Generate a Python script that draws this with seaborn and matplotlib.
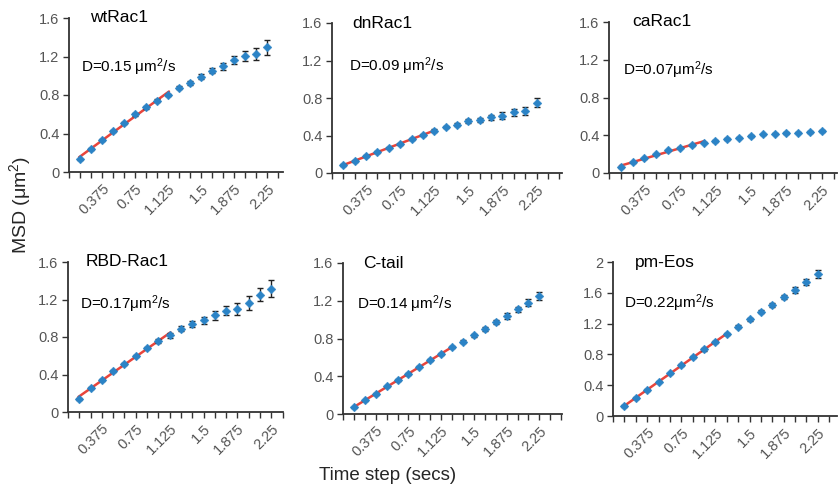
import numpy as np
import pandas as pd
import matplotlib
matplotlib.use("Agg")
import matplotlib.pyplot as plt
import seaborn as sns

sns.set_theme(style="white")
plt.rcParams['font.family'] = ['Liberation Sans', 'DejaVu Sans']
plt.rcParams['mathtext.fontset'] = 'custom'
plt.rcParams['mathtext.rm'] = 'Liberation Sans'
plt.rcParams['mathtext.it'] = 'Liberation Sans'

# ---------------- data ----------------
time_steps = [0.125 * (i + 1) for i in range(18)]
tick_labels = ["0.375", "0.75", "1.125", "1.5", "1.875", "2.25"]

names = ["wtRac1", "dnRac1", "caRac1", "RBD-Rac1", "C-tail", "pm-Eos"]
d_texts = ["D=0.15 \u03bcm$^2$/s", "D=0.09 \u03bcm$^2$/s", "D=0.07\u03bcm$^2$/s",
           "D=0.17\u03bcm$^2$/s", "D=0.14 \u03bcm$^2$/s", "D=0.22\u03bcm$^2$/s"]
fit_points = [9, 9, 8, 9, 10, 10]

msd_wtRac1 = [0.13, 0.24, 0.337, 0.428, 0.508, 0.598, 0.671, 0.741, 0.80,
              0.877, 0.929, 0.991, 1.054, 1.099, 1.162, 1.207, 1.224, 1.294]
err_wtRac1 = [0.01, 0.01, 0.01, 0.01, 0.01, 0.012, 0.012, 0.015, 0.015,
              0.018, 0.02, 0.025, 0.03, 0.035, 0.045, 0.05, 0.06, 0.075]

msd_dnRac1 = [0.084, 0.13, 0.179, 0.225, 0.27, 0.312, 0.361, 0.407, 0.453,
              0.488, 0.516, 0.551, 0.565, 0.593, 0.611, 0.646, 0.663, 0.751]
err_dnRac1 = [0.008, 0.008, 0.008, 0.008, 0.008, 0.01, 0.01, 0.01, 0.012,
              0.012, 0.015, 0.02, 0.025, 0.03, 0.035, 0.035, 0.04, 0.05]

msd_caRac1 = [0.063, 0.113, 0.158, 0.20, 0.239, 0.267, 0.295, 0.323, 0.341,
              0.359, 0.376, 0.39, 0.408, 0.418, 0.425, 0.429, 0.432, 0.443]
err_caRac1 = [0.005, 0.005, 0.005, 0.006, 0.006, 0.006, 0.007, 0.007, 0.008,
              0.008, 0.008, 0.009, 0.009, 0.01, 0.01, 0.01, 0.012, 0.012]

msd_RBD = [0.142, 0.256, 0.338, 0.434, 0.516, 0.601, 0.683, 0.757, 0.818,
           0.889, 0.939, 0.978, 1.031, 1.081, 1.099, 1.163, 1.252, 1.316]
err_RBD = [0.01, 0.01, 0.01, 0.012, 0.012, 0.012, 0.015, 0.018, 0.03,
           0.025, 0.03, 0.04, 0.045, 0.05, 0.06, 0.07, 0.07, 0.09]

msd_Ctail = [0.07, 0.144, 0.214, 0.292, 0.359, 0.425, 0.503, 0.57, 0.636,
             0.707, 0.767, 0.833, 0.90, 0.974, 1.037, 1.108, 1.181, 1.248]
err_Ctail = [0.008, 0.008, 0.008, 0.008, 0.01, 0.01, 0.01, 0.01, 0.012,
             0.012, 0.015, 0.018, 0.018, 0.025, 0.03, 0.03, 0.035, 0.04]

msd_pmEos = [0.13, 0.235, 0.339, 0.448, 0.552, 0.657, 0.761, 0.865, 0.965,
             1.065, 1.161, 1.257, 1.352, 1.443, 1.543, 1.635, 1.735, 1.848]
err_pmEos = [0.01, 0.01, 0.01, 0.01, 0.012, 0.012, 0.012, 0.015, 0.015,
             0.018, 0.02, 0.02, 0.02, 0.025, 0.03, 0.04, 0.04, 0.05]

all_msd = [msd_wtRac1, msd_dnRac1, msd_caRac1, msd_RBD, msd_Ctail, msd_pmEos]
all_err = [err_wtRac1, err_dnRac1, err_caRac1, err_RBD, err_Ctail, err_pmEos]
y_max = [1.6, 1.6, 1.6, 1.6, 1.6, 2.0]
y_ticks = [[0, 0.4, 0.8, 1.2, 1.6]] * 5 + [[0, 0.4, 0.8, 1.2, 1.6, 2.0]]
y_ticklabels = [["0", "0.4", "0.8", "1.2", "1.6"]] * 5 + [["0", "0.4", "0.8", "1.2", "1.6", "2"]]

# ---------------- layout (pixels) ----------------
W, H = 838, 487
boxes = [  # left, right, top, bottom
    (69, 283, 18, 172),
    (332, 562, 23, 173),
    (609, 837, 22, 173),
    (68, 283, 262, 412),
    (343, 562, 263, 414),
    (613, 837, 262, 416),
]
x_max = [2.43, 2.53, 2.41, 2.38, 2.51, 2.46]
title_x = [0.10, 0.087, 0.10, 0.084, 0.09, 0.098]
dtext_pos = [(0.055, 0.68), (0.075, 0.71), (0.06, 0.68), (0.056, 0.72), (0.064, 0.73), (0.05, 0.73)]

BLUE = "#2B83C6"
RED = "#E8453C"
GREY = "#555555"

fig = plt.figure(figsize=(W / 100, H / 100), dpi=100)

for i in range(6):
    l, r, t, b = boxes[i]
    ax = fig.add_axes([l / W, 1 - b / H, (r - l) / W, (b - t) / H])
    df = pd.DataFrame({"t": time_steps, "msd": all_msd[i], "err": all_err[i]})

    # fit line over first points
    n = fit_points[i]
    coef = np.polyfit(df["t"][:n], df["msd"][:n], 1)
    fit_df = pd.DataFrame({"t": [df["t"][0] - 0.01, df["t"][n - 1] + 0.01]})
    fit_df["msd"] = np.polyval(coef, fit_df["t"])
    sns.lineplot(data=fit_df, x="t", y="msd", ax=ax, color=RED, lw=1.8, zorder=2)

    ax.errorbar(df["t"], df["msd"], yerr=df["err"], fmt="none", ecolor="#222222",
                elinewidth=1.0, capsize=2.2, capthick=1.0, zorder=3)
    sns.scatterplot(data=df, x="t", y="msd", ax=ax, marker="D", s=20,
                    color=BLUE, edgecolor=BLUE, linewidth=0.3, zorder=4)

    ax.set_xlim(0, x_max[i])
    ax.set_ylim(0, y_max[i])
    ax.set_xlabel("")
    ax.set_ylabel("")

    minor = np.arange(0, x_max[i] + 1e-9, 0.125)
    ax.set_xticks(minor, minor=True)
    ax.set_xticks([0.375, 0.75, 1.125, 1.5, 1.875, 2.25])
    ax.set_xticklabels(tick_labels, rotation=45, ha="right", va="top",
                       rotation_mode="anchor", fontsize=10.5, color=GREY)
    ax.set_yticks(y_ticks[i])
    ax.set_yticklabels(y_ticklabels[i], fontsize=10.5, color=GREY)
    ax.tick_params(axis="x", which="both", direction="out", length=4, width=1.0,
                   color="#333333", bottom=True, pad=3)
    ax.tick_params(axis="y", which="both", direction="out", length=4, width=1.0,
                   color="#333333", left=True, pad=3)

    for s in ["top", "right"]:
        ax.spines[s].set_visible(False)
    for s in ["left", "bottom"]:
        ax.spines[s].set_color("#333333")
        ax.spines[s].set_linewidth(1.3)

    ax.text(title_x[i], 1.0, names[i], transform=ax.transAxes, fontsize=12.5,
            ha="left", va="center", color="black")
    ax.text(dtext_pos[i][0], dtext_pos[i][1], d_texts[i], transform=ax.transAxes,
            fontsize=11, ha="left", va="center", color="black")

fig.text(20 / W, 1 - 205 / H, "MSD (\u03bcm$^2$)", rotation=90, ha="center",
         va="center", fontsize=14)
fig.text(388 / W, 1 - 475 / H, "Time step (secs)", ha="center", va="center",
         fontsize=13.5)

fig.savefig("out.png", dpi=100)
